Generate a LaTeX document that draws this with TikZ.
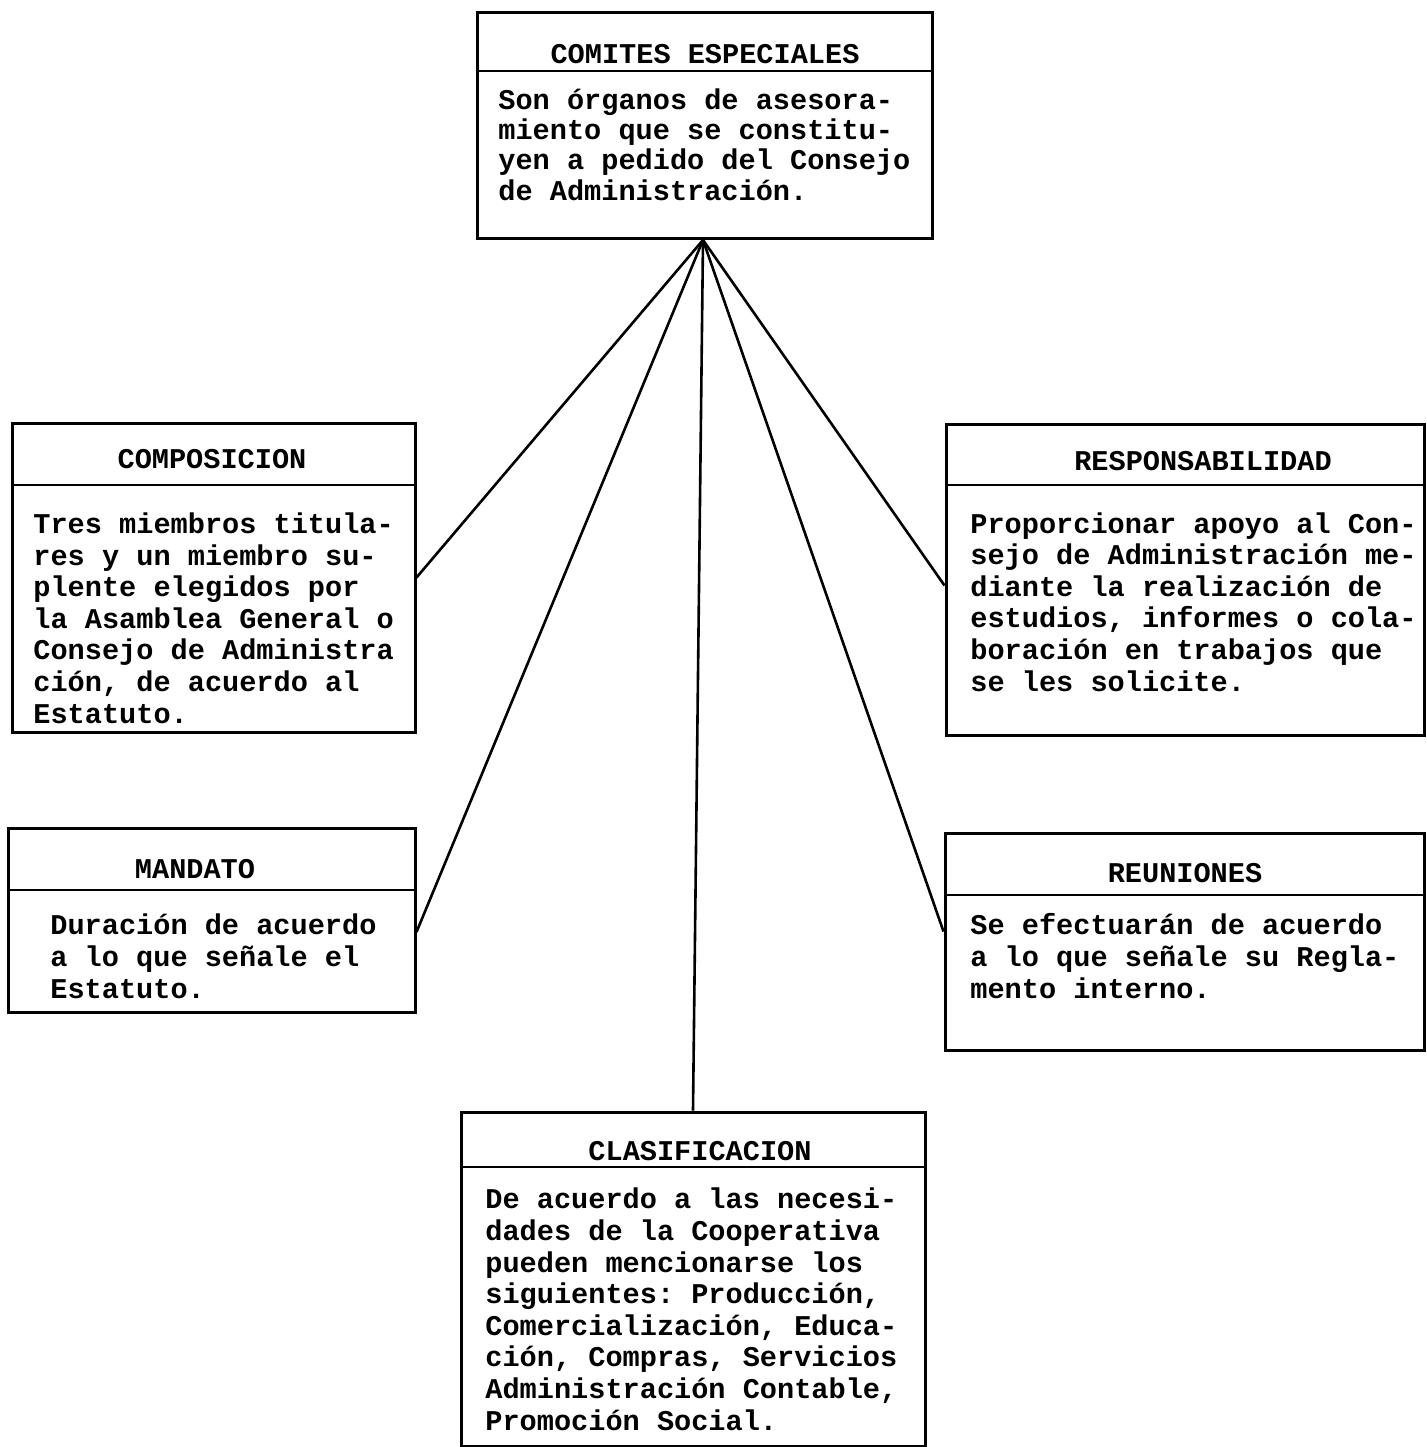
\documentclass[tikz,border=0pt]{standalone}
\usepackage{fontspec}
\setmonofont{Liberation Mono}
\usetikzlibrary{fit}
\begin{document}
\begin{tikzpicture}[x=0.5pt,y=-0.5pt,
  box/.style={draw=black,line width=1.5pt,inner sep=0pt},
  divider/.style={line width=1.4pt},
  link/.style={line width=1.3pt},
  ttl/.style={inner sep=0pt,anchor=base,font=\ttfamily\bfseries\fontsize{14.3}{15.6}\selectfont},
  bodytext/.style={inner sep=0pt,anchor=base west,align=left,font=\ttfamily\bfseries\fontsize{14.3}{15.8}\selectfont}]
\useasboundingbox (0,0) rectangle (1427,1447);
% box corners
\coordinate (a1) at (477,12);  \coordinate (a2) at (932,238);
\coordinate (b1) at (12,423);  \coordinate (b2) at (415,732);
\coordinate (c1) at (946,424); \coordinate (c2) at (1424,735);
\coordinate (d1) at (8,828);   \coordinate (d2) at (415,1012);
\coordinate (e1) at (945,833); \coordinate (e2) at (1424,1050);
\coordinate (f1) at (461,1112);\coordinate (f2) at (925,1446);
\node[box,fit=(a1)(a2)] (top) {};
\node[box,fit=(b1)(b2)] (comp) {};
\node[box,fit=(c1)(c2)] (resp) {};
\node[box,fit=(d1)(d2)] (mand) {};
\node[box,fit=(e1)(e2)] (reun) {};
\node[box,fit=(f1)(f2)] (clas) {};
% dividers
\draw[divider] (top.west |- 0,71) -- (top.east |- 0,71);
\draw[divider] (comp.west |- 0,485) -- (comp.east |- 0,485);
\draw[divider] (resp.west |- 0,485) -- (resp.east |- 0,485);
\draw[divider] (mand.west |- 0,890) -- (mand.east |- 0,890);
\draw[divider] (reun.west |- 0,895) -- (reun.east |- 0,895);
\draw[divider] (clas.west |- 0,1167) -- (clas.east |- 0,1167);
% titles
\node[ttl] (topT) at (705,63) {COMITES ESPECIALES};
\node[ttl] (compT) at (212,468) {COMPOSICION};
\node[ttl] (respT) at (1203,470) {RESPONSABILIDAD};
\node[ttl] (mandT) at (195,878) {MANDATO};
\node[ttl] (reunT) at (1185,882) {REUNIONES};
\node[ttl] (clasT) at (700,1160) {CLASIFICACION};
% bodies (anchored at the baseline of the last line)
\node[bodytext,font=\ttfamily\bfseries\fontsize{14.3}{15.1}\selectfont] (topB) at (498,200)
  {Son órganos de asesora-\\miento que se constitu-\\yen a pedido del Consejo\\de Administración.};
\node[bodytext] (compB) at (33,723)
  {Tres miembros titula-\\res y un miembro su-\\plente elegidos por\\la Asamblea General o\\Consejo de Administra\\ción, de acuerdo al\\Estatuto.};
\node[bodytext] (respB) at (970,691)
  {Proporcionar apoyo al Con-\\sejo de Administración me-\\diante la realización de\\estudios, informes o cola-\\boración en trabajos que\\se les solicite.};
\node[bodytext] (mandB) at (50,998)
  {Duración de acuerdo\\a lo que señale el\\Estatuto.};
\node[bodytext] (reunB) at (970,998)
  {Se efectuarán de acuerdo\\a lo que señale su Regla-\\mento interno.};
\node[bodytext] (clasB) at (485,1430)
  {De acuerdo a las necesi-\\dades de la Cooperativa\\pueden mencionarse los\\siguientes: Producción,\\Comercialización, Educa-\\ción, Compras, Servicios\\Administración Contable,\\Promoción Social.};
% connectors
\coordinate (apex) at (703,240);
\draw[link] (apex) -- (comp.east);
\draw[link] ([yshift=-6pt]mand.east) -- (apex);
\draw[link] (apex) -- ([yshift=-3pt]resp.west);
\draw[link] (apex) -- ([yshift=5pt]reun.west);
\draw[link] (apex) -- (clas.north);
\end{tikzpicture}
\end{document}
